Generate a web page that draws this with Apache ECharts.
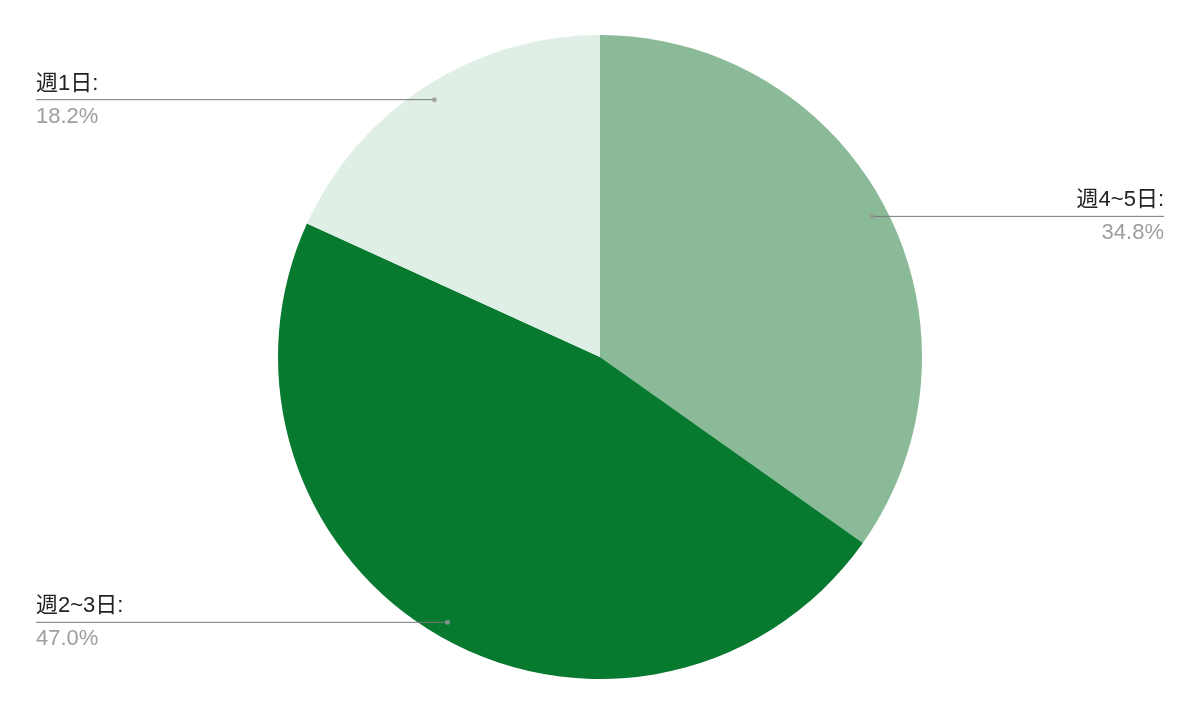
<!DOCTYPE html>
<html><head><meta charset="utf-8">
<script src="https://cdn.jsdelivr.net/npm/echarts@6/dist/echarts.min.js"></script>
<style>html,body{margin:0;padding:0;background:#fff}#c{width:1200px;height:716px}</style>
</head><body><div id="c"></div>
<script>
const categories = ['週4~5日', '週2~3日', '週1日'];
const values = [34.8, 47.0, 18.2];
const colors = ['#8aba98', '#077a30', '#dfefe5'];

const CX = 600, CY = 357, R = 322, DOT_R = 306;
const total = values.reduce((a, b) => a + b, 0);
let cum = 0;
const dots = values.map(v => { const mid = cum + v / 2; cum += v; return [DOT_R, mid / total * 100]; });

const chart = echarts.init(document.getElementById('c'), null, { renderer: 'canvas' });
const font = "'Liberation Sans', Arial, 'Noto Sans CJK JP', sans-serif";
const pieBase = {
  type: 'pie',
  center: [CX, CY],
  radius: [0, R],
  startAngle: 90,
  clockwise: true,
  silent: true
};
chart.setOption({
  animation: false,
  backgroundColor: '#ffffff',
  polar: { center: [CX, CY], radius: R },
  angleAxis: { type: 'value', min: 0, max: 100, startAngle: 90, clockwise: true, show: false },
  radiusAxis: { type: 'value', min: 0, max: R, show: false },
  series: [
    Object.assign({}, pieBase, {
      z: 1,
      data: categories.map((c, i) => ({ name: c, value: values[i], itemStyle: { color: colors[i] } })),
      label: { show: false },
      labelLine: { show: false }
    }),
    Object.assign({}, pieBase, {
      z: 3,
      data: categories.map((c, i) => ({ name: c, value: values[i], itemStyle: { color: 'rgba(0,0,0,0)' } })),
      label: {
        show: true,
        formatter: p => '{n|' + p.name + ':}\n{v|' + p.value.toFixed(1) + '%}',
        rich: {
          n: { fontSize: 22, color: '#222222', fontFamily: font, lineHeight: 34 },
          v: { fontSize: 22, color: '#9e9e9e', fontFamily: font, lineHeight: 32 }
        }
      },
      labelLine: { show: true, length: 10, length2: 10, lineStyle: { color: '#777777', width: 1 } },
      labelLayout: function (p) {
        const d = dots[p.dataIndex];
        const pt = chart.convertToPixel({ seriesIndex: 2 }, d);
        const x0 = pt[0], y0 = pt[1];
        const left = x0 < CX;
        const ex = left ? 36 : 1164;
        return {
          x: ex, y: y0, align: left ? 'left' : 'right', verticalAlign: 'middle',
          labelLinePoints: [[x0, y0], [x0, y0], [ex, y0]]
        };
      }
    }),
    {
      type: 'scatter',
      coordinateSystem: 'polar',
      data: dots,
      symbol: 'circle',
      symbolSize: 5,
      silent: true,
      z: 10,
      itemStyle: { color: '#999999' }
    }
  ]
});
</script></body></html>
